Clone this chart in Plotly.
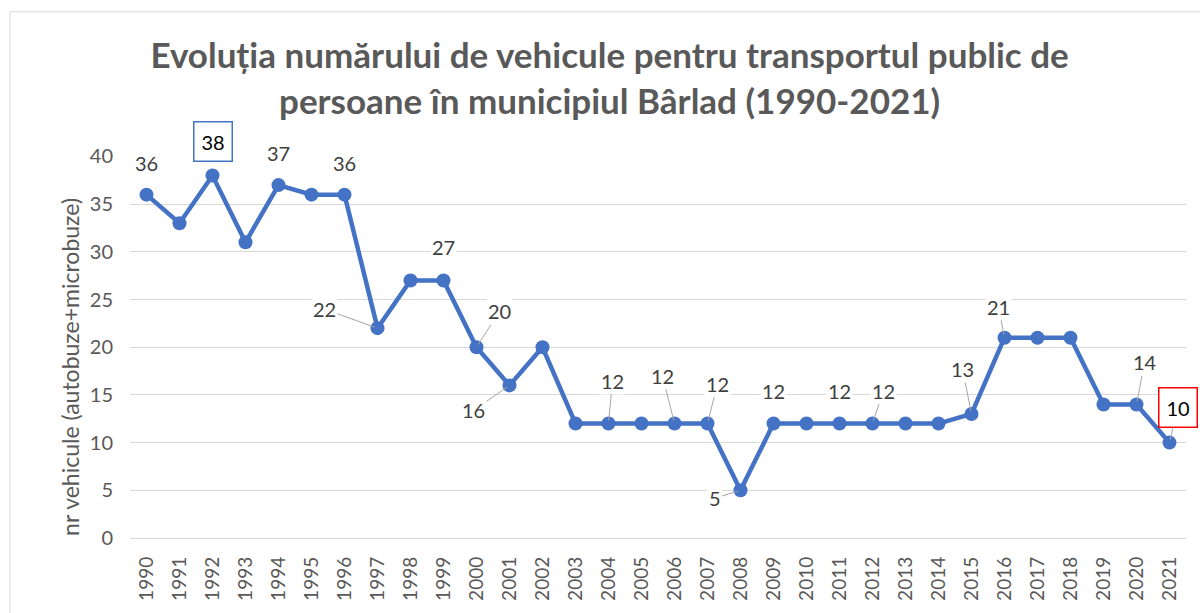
import plotly.graph_objects as go

years = [str(y) for y in range(1990, 2022)]
values = [36, 33, 38, 31, 37, 36, 36, 22, 27, 27, 20, 16, 20, 12, 12, 12, 12, 12, 5,
          12, 12, 12, 12, 12, 12, 13, 21, 21, 21, 14, 14, 10]

# years whose values are shown as data labels
label_years = ["1990", "1992", "1994", "1996", "1997", "1999", "2000", "2001", "2004",
               "2006", "2007", "2008", "2009", "2011", "2012", "2015", "2016", "2020", "2021"]

title_text = ("Evoluția numărului de vehicule pentru transportul public de<br>"
              "persoane în municipiul Bârlad (1990-2021)")
y_title = "nr vehicule (autobuze+microbuze)"

FONT = "Lato"
BLUE = "#4472C4"

fig = go.Figure()
fig.add_trace(go.Scatter(
    x=years, y=values, mode="lines+markers",
    line=dict(color=BLUE, width=4.5),
    marker=dict(color=BLUE, size=14),
    cliponaxis=False, showlegend=False, hoverinfo="x+y",
))

# label placement offsets (pixels): (ax, ay, leader?)
place = {
    "1990": (0, -32, False), "1992": (0, -34, False), "1994": (0, -32, False),
    "1996": (0, -32, False), "1997": (-53, -19, True), "1999": (0, -33, False),
    "2000": (23, -36, True), "2001": (-36, 25, True), "2004": (4, -43, True),
    "2006": (-12, -48, True), "2007": (10, -40, True), "2008": (-26, 8, True),
    "2009": (0, -33, False), "2011": (0, -33, False), "2012": (11, -33, True),
    "2015": (-9, -45, True), "2016": (-6, -31, True), "2020": (8, -42, True),
    "2021": (8, -35, True),
}

for yr in label_years:
    i = years.index(yr)
    v = values[i]
    ax, ay, leader = place[yr]
    kw = dict(x=i, y=v, xref="x", yref="y", text=str(v),
              font=dict(family=FONT, size=20, color="#404040"),
              bgcolor="white")
    if yr == "1992":
        kw.update(bordercolor=BLUE, borderwidth=1.5, borderpad=7,
                  font=dict(family=FONT, size=20, color="black"))
    if yr == "2021":
        kw.update(bordercolor="red", borderwidth=1.5, borderpad=7,
                  font=dict(family=FONT, size=20, color="black"))
    if leader:
        kw.update(showarrow=True, arrowhead=0, arrowwidth=1, arrowcolor="#A6A6A6",
                  ax=ax, ay=ay, standoff=3)
    else:
        kw.update(showarrow=False, xshift=ax, yshift=-ay)
    fig.add_annotation(**kw)

# y axis title
fig.add_annotation(x=(70 - 130) / 1056, y=(540 - 368) / 384, xref="paper", yref="paper",
                   xanchor="center", yanchor="middle",
                   text=y_title, textangle=-90, showarrow=False,
                   font=dict(family=FONT, size=23, color="#595959"))

# outer chart border
fig.add_shape(type="rect", xref="paper", yref="paper",
              x0=(10 - 130) / 1056, x1=(1210 - 130) / 1056,
              y0=(540 - 625) / 384, y1=(540 - 11) / 384,
              line=dict(color="#D9D9D9", width=1), layer="below")

fig.update_layout(
    width=1200, height=613,
    margin=dict(l=130, r=14, t=156, b=73),
    paper_bgcolor="white", plot_bgcolor="white",
    title=dict(text=title_text, x=0.508, xanchor="center",
               y=1 - 68 / 613, yanchor="middle", yref="container",
               font=dict(family=FONT, size=35, color="#595959", weight="bold")),
    xaxis=dict(type="category", range=[-0.5, 31.5], tickangle=-90,
               tickfont=dict(family=FONT, size=19, color="#595959"),
               showgrid=False, showline=False, ticks="", ticklabelstandoff=14),
    yaxis=dict(range=[0, 40.05], dtick=5, tick0=0,
               tickfont=dict(family=FONT, size=20, color="#595959"),
               showgrid=True, gridcolor="#D9D9D9", gridwidth=1.3,
               zeroline=True, zerolinecolor="#D9D9D9", zerolinewidth=1.3,
               showline=False, ticks="", ticklabelstandoff=16),
    font=dict(family=FONT),
)

fig.write_html("out.html", config={"displayModeBar": False},
               post_script="document.body.style.margin='0';")
